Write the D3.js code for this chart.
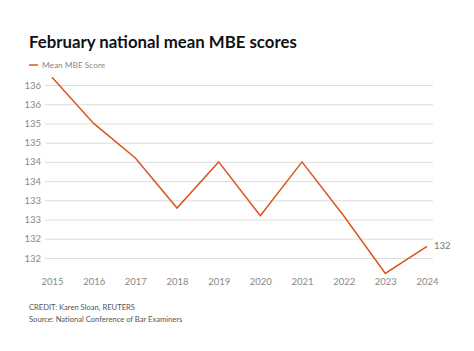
<!DOCTYPE html>
<html>
<head>
<meta charset="utf-8">
<script src="https://cdn.jsdelivr.net/npm/d3@7"></script>
<style>
body { margin: 0; background: #fff; }
svg text { font-family: Lato, "Open Sans", sans-serif; }
</style>
</head>
<body>
<script>
var years = [2015, 2016, 2017, 2018, 2019, 2020, 2021, 2022, 2023, 2024];
var scores = [136.2, 135.0, 134.1, 132.8, 134.0, 132.6, 134.0, 132.6, 131.1, 131.8];
var yTicks = [131.5, 132, 132.5, 133, 133.5, 134, 134.5, 135, 135.5, 136];

var width = 474, height = 351;
var lineColor = "#d9561c";

var svg = d3.select("body").append("svg")
    .attr("width", width)
    .attr("height", height);

// title
svg.append("text")
    .attr("x", 29).attr("y", 48)
    .style("font-size", "16.8px")
    .style("font-weight", "bold")
    .attr("fill", "#111")
    .text("February national mean MBE scores");

// legend
svg.append("line")
    .attr("x1", 29).attr("x2", 38)
    .attr("y1", 65).attr("y2", 65)
    .attr("stroke", lineColor).attr("stroke-width", 1.5);
svg.append("text")
    .attr("x", 42).attr("y", 68)
    .style("font-size", "8.3px")
    .attr("fill", "#888")
    .text("Mean MBE Score");

var x = d3.scalePoint()
    .domain(years)
    .range([52, 427]);

var y = d3.scaleLinear()
    .domain([131.5, 136])
    .range([258, 85]);

// gridlines + y labels
var yAxis = svg.append("g")
    .attr("transform", "translate(45,0)")
    .call(d3.axisLeft(y)
        .tickValues(yTicks)
        .tickSize(-388)
        .tickPadding(4)
        .tickFormat(d => Math.round(d)));
yAxis.select(".domain").remove();
yAxis.selectAll(".tick line").attr("stroke", "#ddd");
yAxis.selectAll(".tick text")
    .attr("fill", "#888")
    .style("font-size", "9.5px");

// x labels
var xAxis = svg.append("g")
    .attr("transform", "translate(0,270)")
    .call(d3.axisBottom(x).tickSize(0).tickPadding(8));
xAxis.select(".domain").remove();
xAxis.selectAll(".tick text")
    .attr("fill", "#888")
    .style("font-size", "9.5px");

// line
svg.append("path")
    .datum(d3.zip(years, scores))
    .attr("fill", "none")
    .attr("stroke", lineColor)
    .attr("stroke-width", 1.5)
    .attr("d", d3.line()
        .x(d => x(d[0]))
        .y(d => y(d[1])));

// end label
svg.append("text")
    .attr("x", x(years[years.length - 1]) + 7)
    .attr("y", y(scores[scores.length - 1]) + 3)
    .style("font-size", "9.5px")
    .attr("fill", "#777")
    .text(Math.round(scores[scores.length - 1]));

// credits
svg.append("text")
    .attr("x", 29).attr("y", 310)
    .style("font-size", "7.6px")
    .attr("fill", "#555")
    .text("CREDIT: Karen Sloan, REUTERS");
svg.append("text")
    .attr("x", 29).attr("y", 322)
    .style("font-size", "7.6px")
    .attr("fill", "#555")
    .text("Source: National Conference of Bar Examiners");
</script>
</body>
</html>
